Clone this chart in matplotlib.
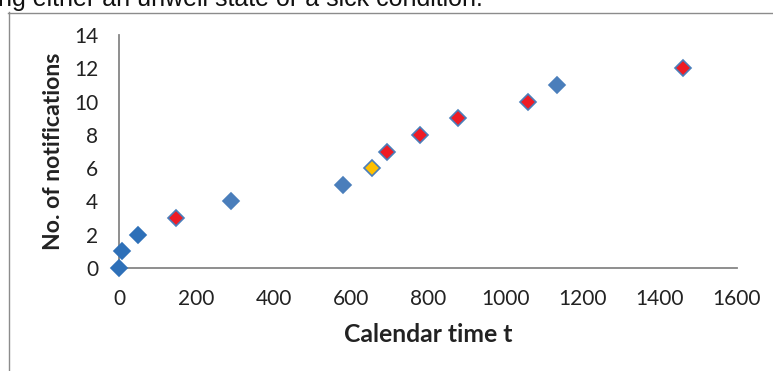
import matplotlib
matplotlib.use("Agg")
import matplotlib.pyplot as plt
from matplotlib.lines import Line2D

# calendar time of each notification and the running count
times = [0, 8, 49, 148, 290, 580, 655, 694, 779, 878, 1059, 1134, 1460]
counts = [0, 1, 2, 3, 4, 5, 6, 7, 8, 9, 10, 11, 12]
# point type as coloured in the chart
kinds = ["first", "first", "first", "red", "blue", "blue", "yellow",
         "red", "red", "red", "red", "blue", "red"]

xticks = [0, 200, 400, 600, 800, 1000, 1200, 1400, 1600]
yticks = [0, 2, 4, 6, 8, 10, 12, 14]

fill = {"first": "#2E70B8", "blue": "#4A7EBB", "red": "#EE1C25", "yellow": "#FFC000"}
edge = {"first": "#2E70B8", "blue": "#4A7EBB", "red": "#4A7EBB", "yellow": "#4A7EBB"}

plt.rcParams["font.family"] = ["Lato", "DejaVu Sans"]

fig = plt.figure(figsize=(7.73, 3.71), dpi=100)
ax = fig.add_axes([119 / 773, 1 - 268 / 371, (737 - 119) / 773, (268 - 35) / 371])

for t, c, k in zip(times, counts, kinds):
    ax.plot(t, c, marker="D", ms=8.4, mfc=fill[k], mec=edge[k], mew=1.2,
            linestyle="none", clip_on=False, zorder=3)

ax.set_xlim(0, 1600)
ax.set_ylim(0, 14)
ax.set_xticks(xticks)
ax.set_yticks(yticks)
ax.tick_params(axis="both", length=0, labelsize=15, colors="#222222")
ax.tick_params(axis="x", pad=15)
ax.tick_params(axis="y", pad=15)

for s in ["top", "right"]:
    ax.spines[s].set_visible(False)
for s in ["left", "bottom"]:
    ax.spines[s].set_color("#868686")
    ax.spines[s].set_linewidth(1.3)

ax.set_xlabel("Calendar time t", fontsize=17.8, fontweight="bold", color="#222222")
ax.set_ylabel("No. of notifications", fontsize=16.6, fontweight="bold", color="#222222")
ax.xaxis.set_label_coords(0.5, -(334 - 268) / 233, transform=ax.transAxes)
ax.xaxis.label.set_va("center")
ax.yaxis.set_label_coords(-(119 - 54) / 618, (268 - 151) / 233, transform=ax.transAxes)
ax.yaxis.label.set_va("center")

# outer chart frame (partly cropped) and the cut-off caption line above
fig.add_artist(Line2D([8.5 / 773, 8.5 / 773], [0, 1 - 12 / 371], color="#8C8C8C", lw=1))
fig.add_artist(Line2D([8 / 773, 1], [1 - 12.5 / 371, 1 - 12.5 / 371], color="#8C8C8C", lw=1))
fig.text(-0.003, 1 - 6 / 371, "ng either an unwell state or a sick condition.",
         fontsize=18, family="Liberation Sans", va="baseline", color="#111111")

fig.savefig("out.png", dpi=100)
